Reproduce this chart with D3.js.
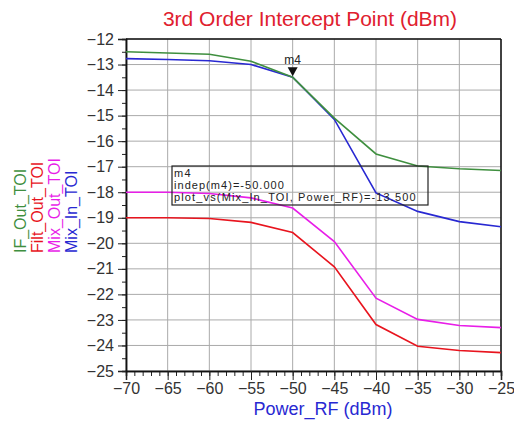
<!DOCTYPE html>
<html><head><meta charset="utf-8">
<script src="https://cdn.jsdelivr.net/npm/d3@7"></script>
<style>body{margin:0;background:#fff}svg{display:block}text{font-family:Arial,"Liberation Sans",sans-serif}</style>
</head><body><svg id="c" width="514" height="426"></svg>
<script>
const powerRF = [-70,-65,-60,-55,-50,-45,-40,-35,-30,-25];
const ifOutTOI  = [-12.5,-12.55,-12.6,-12.87,-13.5,-15.1,-16.5,-16.97,-17.08,-17.15];
const filtOutTOI= [-19.0,-19.0,-19.03,-19.18,-19.58,-20.92,-23.18,-24.03,-24.2,-24.28];
const mixOutTOI = [-18.0,-18.0,-18.05,-18.22,-18.62,-19.93,-22.15,-22.98,-23.22,-23.3];
const mixInTOI  = [-12.77,-12.8,-12.85,-13.0,-13.5,-15.15,-18.03,-18.75,-19.15,-19.35];
const seriesNames = ["IF_Out_TOI","Filt_Out_TOI","Mix_Out_TOI","Mix_In_TOI"];
const seriesColors = ["#3f8f3f","#e8141e","#e81ee8","#2828d2"];
const yTicks = d3.range(-25,-11,1);
const xTicks = d3.range(-70,-24,5);
const markerX = -50, markerY = -13.5;
const markerLines = ["m4","indep(m4)=-50.000","plot_vs(Mix_In_TOI, Power_RF)=-13.500"];

const svg = d3.select("#c");
const L=126,R=501,T=39,B=371;
const x = d3.scaleLinear().domain([-70,-25]).range([L,R]);
const y = d3.scaleLinear().domain([-25,-12]).range([B,T]);

// grid
const g = svg.append("g");
g.selectAll(".gx").data(xTicks).join("line").attr("x1",d=>x(d)).attr("x2",d=>x(d)).attr("y1",T).attr("y2",B).attr("stroke","#aaa").attr("stroke-width",1);
g.selectAll(".gy").data(yTicks).join("line").attr("y1",d=>y(d)).attr("y2",d=>y(d)).attr("x1",L).attr("x2",R).attr("stroke","#aaa").attr("stroke-width",1);

// axes
const xAxis = d3.axisBottom(x).tickValues(xTicks).tickSize(9).tickPadding(3);
const xMinor = d3.axisBottom(x).tickValues(d3.range(-70,-24,1)).tickSize(5).tickFormat("");
const yAxis = d3.axisLeft(y).tickValues(yTicks).tickSize(8).tickPadding(4);
const yMinor = d3.axisLeft(y).tickValues(d3.range(-25,-11.9,0.5)).tickSize(4).tickFormat("");
function styleAx(sel){sel.select(".domain").attr("stroke","#111").attr("stroke-width",1.5);sel.selectAll(".tick line").attr("stroke","#222");sel.selectAll("text").attr("font-size",16).attr("fill","#333").attr("font-family","Arial, Liberation Sans, sans-serif");}
svg.append("g").attr("transform",`translate(0,${B})`).call(xMinor).call(styleAx);
svg.append("g").attr("transform",`translate(0,${B})`).call(xAxis).call(styleAx);
svg.append("g").attr("transform",`translate(${L},0)`).call(yMinor).call(styleAx);
svg.append("g").attr("transform",`translate(${L},0)`).call(yAxis).call(styleAx);
// top/right border
svg.append("line").attr("x1",L).attr("x2",R).attr("y1",T).attr("y2",T).attr("stroke","#111").attr("stroke-width",1.5);
svg.append("line").attr("x1",R).attr("x2",R).attr("y1",T).attr("y2",B).attr("stroke","#111").attr("stroke-width",1.5);

// lines
const data = [ifOutTOI,filtOutTOI,mixOutTOI,mixInTOI];
const line = d3.line().x((d,i)=>x(powerRF[i])).y(d=>y(d));
[3,2,1,0].forEach(k=>{
  svg.append("path").datum(data[k]).attr("d",line).attr("fill","none").attr("stroke",seriesColors[k]).attr("stroke-width",1.6);
});

// marker
const mx=x(markerX), my=y(markerY);
svg.append("path").attr("d",`M${mx-5},${my-10}L${mx+5},${my-10}L${mx},${my-1}Z`).attr("fill","#111");
svg.append("text").attr("x",mx).attr("y",my-13).attr("text-anchor","middle").attr("font-size",12).attr("fill","#222").text("m4");

// marker box
const bx=172,by=166;
const mt = svg.append("g");
mt.append("rect").attr("x",bx).attr("y",by).attr("width",256).attr("height",39).attr("fill","none").attr("stroke","#222").attr("stroke-width",1.2);
const lens=[18,111,243];
markerLines.forEach((t,i)=>{
  const tx = mt.append("text").attr("x",bx+2).attr("y",by+11+i*12).attr("font-size",11).attr("fill","#222").text(t);
  const w = tx.node().getComputedTextLength();
  const ls = Math.max(0,(lens[i]-w)/t.length);
  tx.style("letter-spacing", ls.toFixed(2)+"px");
});

// title
svg.append("text").attr("x",310).attr("y",26).attr("text-anchor","middle").attr("font-size",21).attr("fill","#e0202e").text("3rd Order Intercept Point (dBm)");
// x label
svg.append("text").attr("x",323).attr("y",415).attr("text-anchor","middle").attr("font-size",18).attr("fill","#2828d2").text("Power_RF (dBm)");
// y labels
const yl=[26,43,60,77];
seriesNames.forEach((n,i)=>{
  svg.append("text").attr("transform",`translate(${yl[i]},253) rotate(-90)`).attr("font-size",16).attr("fill",seriesColors[i]).text(n);
});
</script></body></html>
